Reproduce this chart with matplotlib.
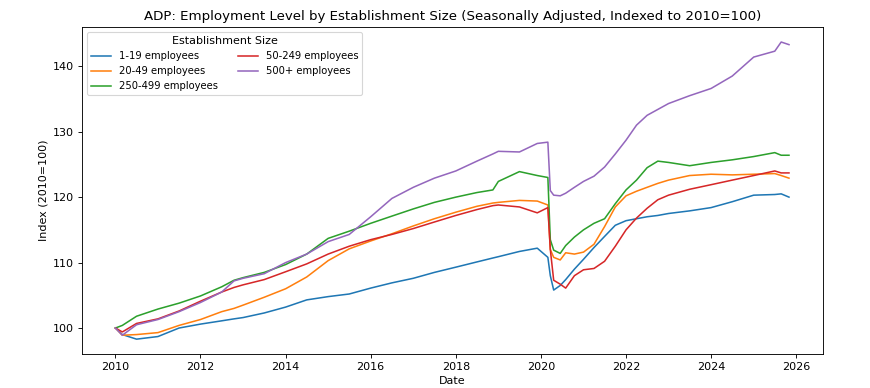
import matplotlib
matplotlib.use("Agg")
import matplotlib.pyplot as plt
import pandas as pd

# sample dates
dates = ["2010-01-01", "2010-03-01", "2010-07-01", "2011-01-01", "2011-07-01",
         "2012-01-01", "2012-07-01", "2012-10-15", "2013-01-01", "2013-07-01",
         "2014-01-01", "2014-07-01", "2015-01-01", "2015-07-01", "2016-01-01",
         "2016-07-01", "2017-01-01", "2017-07-01", "2018-01-01", "2018-07-01",
         "2018-11-15", "2019-01-01", "2019-07-01", "2019-12-01", "2020-03-01",
         "2020-03-22", "2020-04-20", "2020-06-15", "2020-08-01", "2020-10-15",
         "2021-01-01", "2021-04-01", "2021-07-01", "2021-10-01", "2022-01-01",
         "2022-04-01", "2022-07-01", "2022-10-01", "2023-01-01", "2023-07-01",
         "2024-01-01", "2024-07-01", "2025-01-01", "2025-07-01", "2025-08-25",
         "2025-10-31"]

emp_1_19 = [100.0, 99.0, 98.3, 98.7, 100.0, 100.6, 101.1, 101.4, 101.6, 102.3,
            103.2, 104.3, 104.8, 105.2, 106.1, 106.9, 107.6, 108.5, 109.3, 110.1,
            110.7, 110.9, 111.7, 112.2, 110.8, 108.0, 105.8, 106.5, 107.4, 109.0,
            110.5, 112.3, 114.0, 115.7, 116.4, 116.7, 117.0, 117.2, 117.5, 117.9,
            118.4, 119.3, 120.3, 120.4, 120.5, 120.0]

emp_20_49 = [100.0, 98.9, 99.0, 99.3, 100.4, 101.3, 102.5, 103.0, 103.5, 104.7,
             106.0, 107.8, 110.3, 112.1, 113.3, 114.4, 115.6, 116.7, 117.7, 118.6,
             119.1, 119.2, 119.5, 119.4, 118.8, 112.0, 110.8, 110.4, 111.5, 111.3,
             111.6, 112.8, 115.5, 118.5, 120.2, 120.9, 121.5, 122.1, 122.6, 123.3,
             123.5, 123.4, 123.5, 123.6, 123.3, 122.9]

emp_250_499 = [100.0, 100.4, 101.8, 102.9, 103.8, 104.9, 106.3, 107.3, 107.7, 108.5,
               109.7, 111.3, 113.7, 114.8, 116.0, 117.1, 118.2, 119.2, 120.0, 120.7,
               121.1, 122.4, 123.9, 123.3, 123.0, 113.5, 111.9, 111.4, 112.6, 113.9,
               115.0, 116.0, 116.7, 119.0, 121.1, 122.6, 124.5, 125.5, 125.3, 124.8,
               125.3, 125.7, 126.2, 126.8, 126.4, 126.4]

emp_50_249 = [100.0, 99.4, 100.7, 101.4, 102.6, 104.1, 105.5, 106.2, 106.6, 107.4,
              108.6, 109.8, 111.3, 112.5, 113.5, 114.3, 115.2, 116.2, 117.2, 118.1,
              118.7, 118.8, 118.5, 117.6, 118.4, 112.0, 107.3, 106.7, 106.1, 108.0,
              108.9, 109.1, 110.2, 112.5, 115.0, 116.8, 118.3, 119.6, 120.3, 121.2,
              121.9, 122.6, 123.3, 124.0, 123.7, 123.7]

emp_500 = [100.0, 98.9, 100.5, 101.3, 102.5, 103.9, 105.5, 107.2, 107.6, 108.3,
           110.0, 111.3, 113.2, 114.3, 117.0, 119.8, 121.5, 122.9, 124.0, 125.5,
           126.6, 127.0, 126.9, 128.2, 128.4, 121.0, 120.3, 120.2, 120.6, 121.5,
           122.4, 123.2, 124.6, 126.6, 128.7, 131.0, 132.5, 133.4, 134.3, 135.5,
           136.6, 138.5, 141.4, 142.3, 143.7, 143.3]

labels = ["1-19 employees", "20-49 employees", "250-499 employees",
          "50-249 employees", "500+ employees"]
series = [emp_1_19, emp_20_49, emp_250_499, emp_50_249, emp_500]

x = pd.to_datetime(dates)

fig, ax = plt.subplots(figsize=(870 / 80, 388 / 80), dpi=80)
fig.subplots_adjust(left=0.094, right=0.9456, bottom=0.0876, top=0.930)

for vals, lab in zip(series, labels):
    ax.plot(x, vals, label=lab, linewidth=1.4)

ax.set_title("ADP: Employment Level by Establishment Size (Seasonally Adjusted, Indexed to 2010=100)")
ax.set_xlabel("Date")
ax.set_ylabel("Index (2010=100)")
ax.legend(title="Establishment Size", ncol=2, loc="upper left", fontsize=9)

fig.savefig("out.png", dpi=80)
